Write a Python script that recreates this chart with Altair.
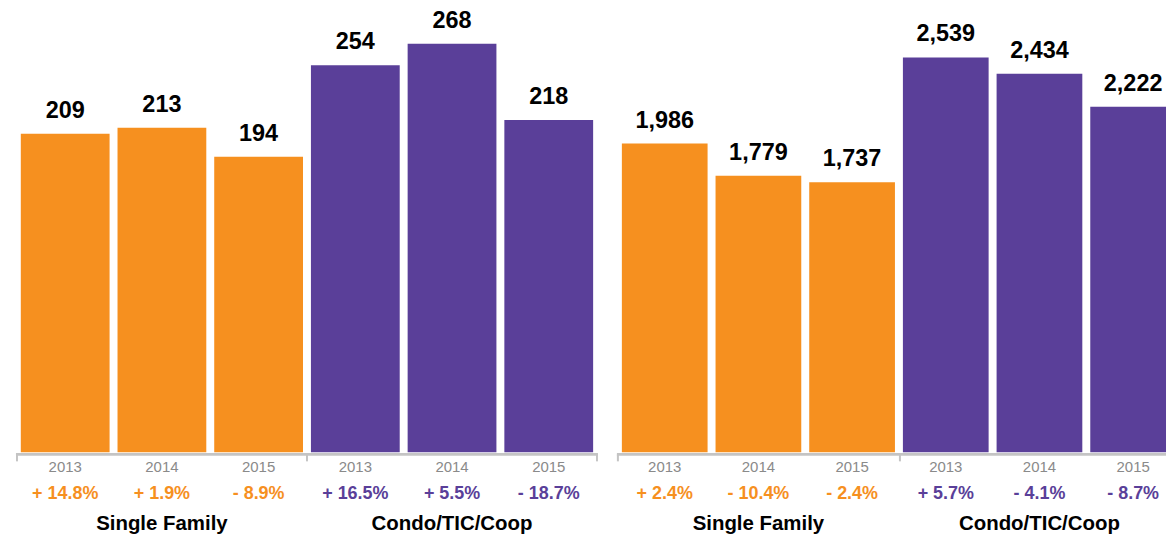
import altair as alt
import pandas as pd

# ---- data ----
keys = ["SF13", "SF14", "SF15", "CO13", "CO14", "CO15"]
years = ["2013", "2014", "2015", "2013", "2014", "2015"]
groups = ["Single Family"] * 3 + ["Condo/TIC/Coop"] * 3
left_values = [209, 213, 194, 254, 268, 218]
left_pct = ["+ 14.8%", "+ 1.9%", "- 8.9%", "+ 16.5%", "+ 5.5%", "- 18.7%"]
right_values = [1986, 1779, 1737, 2539, 2434, 2222]
right_pct = ["+ 2.4%", "- 10.4%", "- 2.4%", "+ 5.7%", "- 4.1%", "- 8.7%"]
group_labels = ["Single Family", "Condo/TIC/Coop"]
group_keys = ["SF14", "CO14"]

ORANGE = "#F6901F"
PURPLE = "#5A3F99"
FONT = "Liberation Sans, Arial, Helvetica, sans-serif"
H = 445


def panel(values, pct, ymax, width, span, pad_inner, pad_outer, tick_pos):
    df = pd.DataFrame({"key": keys, "year": years, "group": groups,
                       "value": values, "pct": pct})
    x = alt.X("key:N", sort=keys, axis=None,
              scale=alt.Scale(range=[0, span], paddingInner=pad_inner,
                              paddingOuter=pad_outer))
    color = alt.Color("group:N", legend=None,
                      scale=alt.Scale(domain=group_labels, range=[ORANGE, PURPLE]))
    y = alt.Y("value:Q", axis=None, scale=alt.Scale(domain=[0, ymax]))
    base = alt.Chart(df).encode(x=x)
    bars = base.mark_bar(clip=True).encode(y=y, color=color)
    vals = base.mark_text(font=FONT, fontSize=23.5, fontWeight="bold",
                          baseline="alphabetic", dy=-16, color="#000").encode(
        y=y, text=alt.Text("value:Q", format=","))
    yrs = base.mark_text(font=FONT, fontSize=15, color="#8a8a8a",
                         baseline="alphabetic").encode(
        y=alt.value(465), text="year:N")
    pcts = base.mark_text(font=FONT, fontSize=18, fontWeight="bold",
                          baseline="alphabetic").encode(
        y=alt.value(492), text="pct:N", color=color)
    grp = alt.Chart(pd.DataFrame({"key": group_keys, "label": group_labels})).mark_text(
        font=FONT, fontSize=20.5, fontWeight="bold", baseline="alphabetic", color="#000"
    ).encode(x=x, y=alt.value(523), text="label:N")
    one = pd.DataFrame({"a": [0]})
    axis_line = alt.Chart(one).mark_rule(color="#c4c4c4", strokeWidth=3).encode(
        x=alt.value(0), x2=alt.value(width), y=alt.value(447))
    ticks = [
        alt.Chart(one).mark_rule(color="#c4c4c4", strokeWidth=2).encode(
            x=alt.value(p), y=alt.value(447), y2=alt.value(454))
        for p in tick_pos
    ]
    return alt.layer(bars, vals, yrs, pcts, grp, axis_line, *ticks).properties(
        width=width, height=H)


left = panel(left_values, left_pct, 290.9, 584, 584, 0.082, 0.05, (1, 292, 583))
right = panel(right_values, right_pct, 2851, 551, 566, 0.085, 0.053, (1, 284))

chart = alt.hconcat(left, right, spacing=19, bounds="flush").properties(
    padding={"left": 6, "top": 0, "right": 0, "bottom": 0}
).configure_view(stroke=None)

chart.save("out.html", embed_options={"renderer": "svg", "actions": False})
